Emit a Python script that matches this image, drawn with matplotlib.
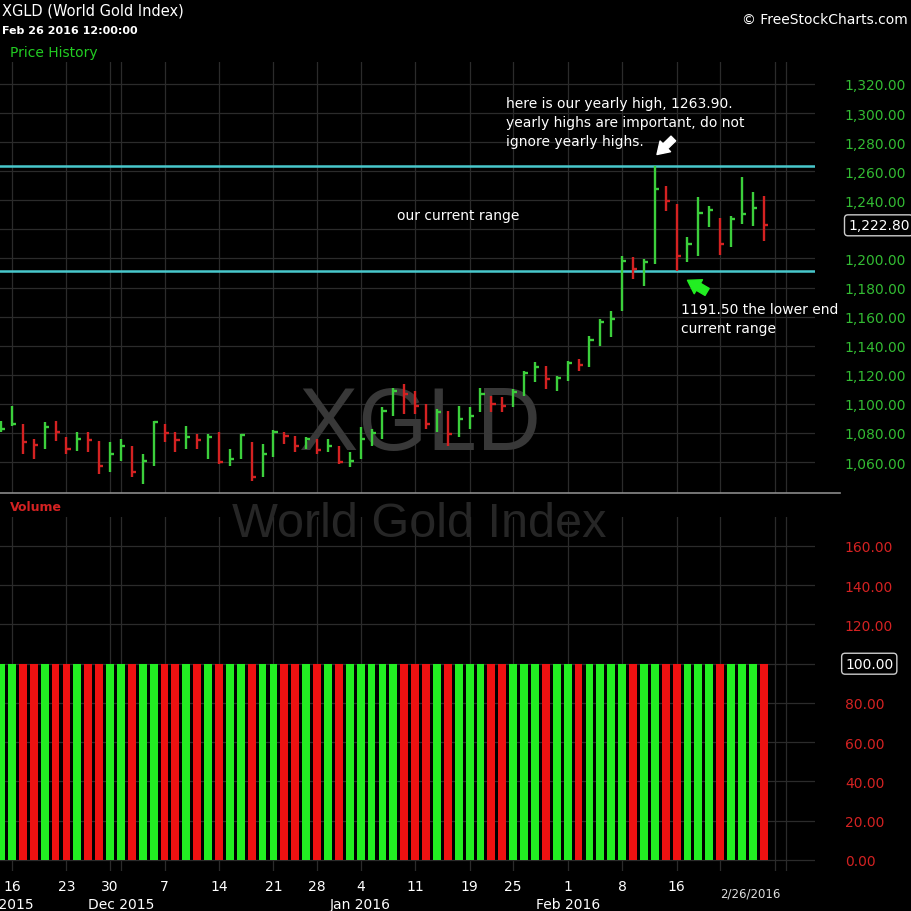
import numpy as np
import pandas as pd
import matplotlib
matplotlib.use("Agg")
import matplotlib.pyplot as plt
from matplotlib.ticker import FuncFormatter, FixedLocator
from matplotlib.lines import Line2D

# ---------------- data ----------------
start_date = "2015-11-13"
end_date = "2016-03-01"
holidays = ["2015-11-26", "2015-12-25", "2016-01-01", "2016-01-18", "2016-02-15"]

prev_close = 1080.0
high = [1088.2, 1098.5, 1086.0, 1075.8, 1087.5, 1088.0, 1077.0, 1081.0, 1081.0, 1074.4,
        1073.7, 1075.8, 1071.0, 1065.5, 1088.2, 1086.0, 1081.0, 1084.8, 1079.0, 1079.0,
        1080.6, 1069.0, 1079.0, 1073.7, 1072.4, 1082.0, 1081.0, 1078.0, 1077.0, 1075.8,
        1075.8, 1071.0, 1067.0, 1084.0, 1082.7, 1097.8, 1111.0, 1113.6, 1108.8, 1100.0,
        1096.5, 1095.3, 1098.7, 1097.8, 1110.9, 1105.6, 1104.7, 1110.0, 1122.8, 1128.8,
        1126.2, 1119.3, 1129.7, 1130.8, 1146.9, 1158.3, 1164.0, 1201.9, 1200.8, 1199.6,
        1263.9, 1250.0, 1237.4, 1214.5, 1242.0, 1235.8, 1228.1, 1229.4, 1255.8, 1245.5,
        1243.2]
low = [1080.6, 1084.8, 1065.5, 1062.0, 1069.0, 1074.4, 1065.5, 1067.6, 1067.0, 1052.0,
       1053.0, 1060.7, 1049.7, 1045.0, 1057.0, 1073.7, 1067.0, 1069.0, 1069.0, 1062.0,
       1058.6, 1057.0, 1062.0, 1047.0, 1049.7, 1063.4, 1072.4, 1067.0, 1069.0, 1065.5,
       1067.0, 1058.6, 1056.6, 1062.0, 1071.0, 1075.8, 1092.0, 1093.0, 1093.0, 1082.7,
       1080.6, 1071.2, 1077.0, 1082.7, 1094.4, 1094.4, 1094.4, 1097.8, 1105.6, 1115.0,
       1110.0, 1109.0, 1115.9, 1122.8, 1125.1, 1140.0, 1145.8, 1164.0, 1185.9, 1181.3,
       1196.0, 1232.8, 1191.5, 1197.3, 1201.9, 1221.4, 1202.4, 1207.7, 1223.7, 1222.5,
       1212.2]
close = [1083.0, 1086.0, 1074.0, 1072.0, 1084.0, 1081.0, 1069.0, 1076.0, 1075.0, 1057.0,
         1065.5, 1071.0, 1053.0, 1060.7, 1087.5, 1080.0, 1075.0, 1077.0, 1075.0, 1077.0,
         1060.0, 1062.0, 1078.4, 1049.7, 1065.5, 1081.0, 1078.0, 1071.0, 1076.0, 1068.0,
         1071.0, 1060.0, 1061.0, 1076.0, 1080.0, 1095.0, 1109.0, 1106.8, 1098.7, 1086.0,
         1094.4, 1079.0, 1089.6, 1091.8, 1106.8, 1100.0, 1098.7, 1108.4, 1121.0, 1125.3,
         1117.0, 1118.0, 1128.0, 1126.7, 1144.0, 1156.5, 1158.3, 1198.5, 1192.7, 1197.8,
         1247.8, 1239.7, 1201.5, 1210.0, 1231.0, 1233.0, 1210.0, 1227.0, 1230.6, 1234.5,
         1222.8]
volume = [100, 100, 100, 100, 100, 100, 100, 100, 100, 100,
          100, 100, 100, 100, 100, 100, 100, 100, 100, 100,
          100, 100, 100, 100, 100, 100, 100, 100, 100, 100,
          100, 100, 100, 100, 100, 100, 100, 100, 100, 100,
          100, 100, 100, 100, 100, 100, 100, 100, 100, 100,
          100, 100, 100, 100, 100, 100, 100, 100, 100, 100,
          100, 100, 100, 100, 100, 100, 100, 100, 100, 100,
          100]

yearly_high = 1263.90
range_low = 1191.50

tick_dates = ["2015-11-16", "2015-11-23", "2015-11-30", "2015-12-07", "2015-12-14",
              "2015-12-21", "2015-12-28", "2016-01-04", "2016-01-11", "2016-01-19",
              "2016-01-25", "2016-02-01", "2016-02-08", "2016-02-16"]
tick_labels = ["16", "23", "30", "7", "14", "21", "28", "4", "11", "19", "25", "1", "8", "16"]
month_labels = ["Nov 2015", "Dec 2015", "Jan 2016", "Feb 2016"]
month_dates = [None, "2015-12-01", "2016-01-04", "2016-02-01"]
price_ticks = [1060, 1080, 1100, 1120, 1140, 1160, 1180, 1200, 1220, 1240, 1260, 1280, 1300, 1320]
volume_ticks = [0, 20, 40, 60, 80, 100, 120, 140, 160]

# ---------------- styling ----------------
BG = "black"
GRID = "#2b2b2b"
UP_BAR = "#3ccf3c"
DN_BAR = "#d42222"
UP_VOL = "#22ee22"
DN_VOL = "#ee1111"
PRICE_LBL = "#33bb33"
VOL_LBL = "#d42222"
CYAN = "#48c8cc"

plt.rcParams["font.family"] = ["DejaVu Sans"]

sessions = pd.bdate_range(start_date, end_date)
sessions = sessions[~sessions.isin(pd.to_datetime(holidays))]
pos = {d.strftime("%Y-%m-%d"): i for i, d in enumerate(sessions)}

n = len(close)
x = np.arange(n)
prev = np.r_[prev_close, np.array(close[:-1])]
up = np.array(close) >= prev
bar_cols = np.where(up, UP_BAR, DN_BAR)
vol_cols = np.where(up, UP_VOL, DN_VOL)

# gridline positions: week starts + month starts (include future sessions)
wd = sessions.weekday
week_starts = [i for i in range(1, len(sessions)) if wd[i] < wd[i - 1]]
month_starts = [i for i in range(1, len(sessions)) if sessions[i].month != sessions[i - 1].month]
vgrid = sorted(set(week_starts + month_starts))

fig = plt.figure(figsize=(9.12, 9.12), dpi=100, facecolor=BG)
ax = fig.add_axes([0.0, 0.4583, 0.8936, 0.4726], facecolor=BG)
axv = fig.add_axes([0.0, 0.0439, 0.8936, 0.3882], facecolor=BG)

xlim = (-0.1, 74.7)
for a in (ax, axv):
    a.set_xlim(*xlim)
    for s in a.spines.values():
        s.set_visible(False)
    for v in vgrid:
        a.axvline(v, color=GRID, lw=0.9, zorder=0)
    a.yaxis.tick_right()
    a.tick_params(axis="y", length=0, pad=21.5)
    a.tick_params(axis="x", length=0)

# ---------------- price panel ----------------
ax.set_ylim(1038.7, 1335.1)
ax.yaxis.set_major_locator(FixedLocator(price_ticks))
last = close[-1]
ax.yaxis.set_major_formatter(FuncFormatter(
    lambda v, p: "" if abs(v - last) < 10 else f"{v:,.2f}"))
ax.tick_params(axis="y", labelcolor=PRICE_LBL, labelsize=10)
for t in price_ticks:
    ax.axhline(t, color=GRID, lw=0.9, zorder=0)
ax.set_xticks([])

ax.text(38.4, 1085, "XGLD", fontsize=64, family="Liberation Sans", color="#383838",
        ha="center", va="center", zorder=0.5)

ax.vlines(x, low, high, colors=bar_cols, lw=1.7, zorder=3)
ax.hlines(close, x, x + 0.38, colors=bar_cols, lw=1.7, zorder=3)

ax.axhline(yearly_high, color=CYAN, lw=1.8, zorder=2)
ax.axhline(range_low, color=CYAN, lw=1.8, zorder=2)

ax.text(1.0405, last, f"{last:,.2f}", transform=ax.get_yaxis_transform(),
        color="white", fontsize=10, ha="left", va="center",
        bbox=dict(boxstyle="round,pad=0.25", fc="black", ec="#cccccc", lw=1.0))

ax.text(46.3, 1293.8,
        f"here is our yearly high, {yearly_high:.2f}.\nyearly highs are important, do not\nignore yearly highs.",
        color="white", fontsize=10, ha="left", va="center", linespacing=1.45)
ax.text(36.3, 1229.9, "our current range", color="white", fontsize=10, ha="left", va="center")
ax.text(62.4, 1159.0, f"{range_low:.2f} the lower end\ncurrent range", color="white",
        fontsize=10, ha="left", va="center", linespacing=1.45)

ax.annotate("", xy=(60.2, 1271.5), xytext=(61.7, 1282.5),
            arrowprops=dict(arrowstyle="simple,head_width=0.9,head_length=0.7,tail_width=0.4",
                            color="white", mutation_scale=12, shrinkA=0, shrinkB=0))
ax.annotate("", xy=(63.0, 1185.0), xytext=(64.8, 1177.0),
            arrowprops=dict(arrowstyle="simple,head_width=0.9,head_length=0.7,tail_width=0.45",
                            color="#22ee22", mutation_scale=13, shrinkA=0, shrinkB=0))

# ---------------- volume panel ----------------
axv.set_ylim(-5.6, 174.8)
axv.yaxis.set_major_locator(FixedLocator(volume_ticks))
lastv = volume[-1]
axv.yaxis.set_major_formatter(FuncFormatter(
    lambda v, p: "" if abs(v - lastv) < 10 else f"{v:,.2f}"))
axv.tick_params(axis="y", labelcolor=VOL_LBL, labelsize=10)
for t in volume_ticks:
    axv.axhline(t, color=GRID, lw=0.9, zorder=0)

axv.text(38.4, 171.2, "World Gold Index", fontsize=35, family="Liberation Sans",
         color="#262626", ha="center", va="center", zorder=0.5)

axv.bar(x, volume, width=0.72, color=vol_cols, zorder=3)

axv.text(1.037, lastv, f"{lastv:,.2f}", transform=axv.get_yaxis_transform(),
         color="white", fontsize=10, ha="left", va="center",
         bbox=dict(boxstyle="round,pad=0.25", fc="black", ec="#cccccc", lw=1.0))

axv.set_xticks([pos[d] for d in tick_dates])
axv.set_xticklabels(tick_labels)
axv.tick_params(axis="x", colors="white", labelsize=10, pad=6)

trans = axv.get_xaxis_transform()
for lab, d in zip(month_labels, month_dates):
    xm = xlim[0] if d is None else pos[d]
    axv.text(xm, -0.093, lab, transform=trans, color="white", fontsize=10,
             ha="center", va="center", clip_on=False)
axv.text(n - 1 - 1.2, -0.063, sessions[n - 1].strftime("%-m/%-d/%Y"), transform=trans,
         color="#dddddd", fontsize=8.5, ha="center", va="center", clip_on=False)

# ---------------- header / panel labels ----------------
fig.add_artist(Line2D([0, 840 / 912], [1 - 494 / 912, 1 - 494 / 912],
                      transform=fig.transFigure, color="#8a8a8a", lw=1.2))
fig.text(2 / 912, 1 - 11 / 912, "XGLD (World Gold Index)", color="white", fontsize=10.5,
         ha="left", va="center")
fig.text(2 / 912, 1 - 31 / 912, "Feb 26 2016 12:00:00", color="white", fontsize=8,
         fontweight="bold", ha="left", va="center")
fig.text(10 / 912, 1 - 53 / 912, "Price History", color="#22cc22", fontsize=10,
         ha="left", va="center")
fig.text(908 / 912, 1 - 20 / 912, "© FreeStockCharts.com", color="white", fontsize=10,
         ha="right", va="center")
fig.text(10 / 912, 1 - 508 / 912, "Volume", color="#d42222", fontsize=9,
         fontweight="bold", ha="left", va="center")

fig.savefig("out.png", dpi=100, facecolor=BG)
